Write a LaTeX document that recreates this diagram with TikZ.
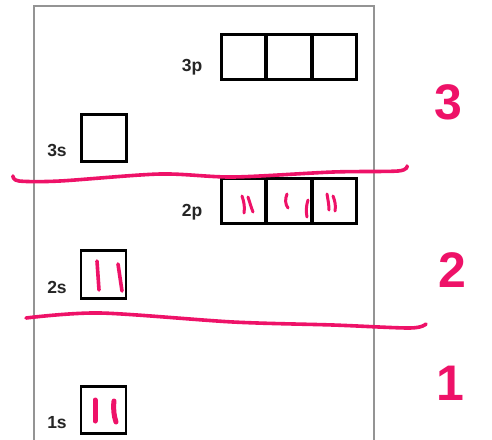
\documentclass[tikz,border=0pt]{standalone}
\usepackage{fontspec}
\setmainfont{Liberation Sans}
\begin{document}
\begin{tikzpicture}[x=1pt,y=-1pt,
  orb/.style={draw=black,line width=2.6pt,minimum width=44pt,minimum height=45pt,inner sep=0pt,fill=white},
  lab/.style={font=\fontsize{17.5}{19}\selectfont\bfseries,text=black!85,inner sep=0pt},
  ink/.style={draw=pinkink,line width=3.6pt,line cap=round,line join=round},
  hand/.style={text=pinkink,font=\fontsize{50}{54}\selectfont\bfseries,inner sep=0pt}]
\definecolor{pinkink}{RGB}{238,18,104}
\useasboundingbox (0,0) rectangle (492,439);
\fill[white] (0,0) rectangle (492,439);
% frame
\draw[draw=black!42,line width=1.3pt] (34,440) -- (34,6) -- (374,6) -- (374,440);
% 3p
\node[orb] (p3a) at (243.5,57) {};
\node[orb] (p3b) at (289,57) {};
\node[orb] (p3c) at (334.5,57) {};
\node[lab] (l3p) at (192,67) {3p};
% 3s
\node[orb,minimum width=45pt,minimum height=47pt] (s3) at (104,138) {};
\node[lab] (l3s) at (57,150) {3s};
% 2p
\node[orb] (p2a) at (243.5,201) {};
\node[orb] (p2b) at (289,201) {};
\node[orb] (p2c) at (334.5,201) {};
\node[lab] (l2p) at (192,212) {2p};
% 2s
\node[orb,minimum width=45pt,minimum height=48pt] (s2) at (103.5,274.5) {};
\node[lab] (l2s) at (57,287) {2s};
% 1s
\node[orb,minimum width=45pt,minimum height=47pt] (s1) at (103.5,410) {};
\node[lab] (l1s) at (57,423) {1s};
% electrons
\draw[ink,line width=3pt] (242,196) .. controls (244,202) and (245,207) .. (244,213);
\draw[ink,line width=3pt] (248,197) .. controls (250,203) and (251,207) .. (253,212);
\draw[ink,line width=3pt] (287,194) .. controls (285,199) and (285,204) .. (288,208);
\draw[ink,line width=3pt] (308,200) .. controls (306,206) and (306,212) .. (307,217);
\draw[ink,line width=3pt] (327,194) .. controls (328,200) and (329,205) .. (329,210);
\draw[ink,line width=3pt] (333,196) .. controls (335,201) and (336,206) .. (335,211);
\draw[ink] (97,261) -- (99,290);
\draw[ink] (118,264) -- (122,291);
\draw[ink,line width=5pt] (95,400) .. controls (95,408) and (95,415) .. (95,421);
\draw[ink,line width=5pt] (114,401) .. controls (113,409) and (114,416) .. (116,422);
% shell dividers
\draw[ink] plot[smooth] coordinates {(13,176) (19,181) (60,181) (160,174) (233,177) (333,172) (398,171) (407,166)};
\draw[ink] plot[smooth] coordinates {(26,318) (100,313) (233,322) (333,325) (410,328) (426,324)};
% shell numbers
\node[hand] (n3) at (448,102) {3};
\node[hand] (n2) at (452,270) {2};
\node[hand] (n1) at (450,383) {1};
\end{tikzpicture}
\end{document}
